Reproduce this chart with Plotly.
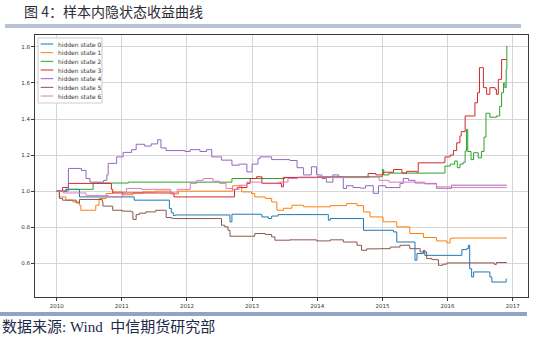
import plotly.graph_objects as go

# ---- data: cumulative return curves per hidden state (x in decimal years) ----
state_names = ["hidden state 0", "hidden state 1", "hidden state 2", "hidden state 3",
               "hidden state 4", "hidden state 5", "hidden state 6"]
state_colors = ["#1f77b4", "#ff7f0e", "#2ca02c", "#d62728", "#9467bd", "#8c564b", "#e377c2"]

s0_t = [2010.00, 2010.14, 2010.35, 2011.19, 2011.73, 2011.76, 2011.79, 2011.82, 2012.63, 2012.66,
        2012.69, 2013.12, 2013.15, 2013.25, 2013.30, 2013.40, 2014.14, 2014.17, 2014.20, 2014.68,
        2014.71, 2015.17, 2015.22, 2015.47, 2015.50, 2015.53, 2015.63, 2015.65, 2016.21, 2016.22,
        2016.29, 2016.32, 2016.34, 2016.37, 2016.40, 2016.63, 2016.65, 2016.68, 2016.88, 2016.90]
s0_v = [1.000, 1.010, 0.968, 0.950, 0.904, 0.880, 0.865, 0.868, 0.868, 0.830,
        0.872, 0.872, 0.857, 0.848, 0.862, 0.870, 0.870, 0.839, 0.848, 0.848,
        0.783, 0.774, 0.718, 0.718, 0.617, 0.654, 0.672, 0.644, 0.644, 0.676,
        0.681, 0.700, 0.570, 0.524, 0.552, 0.552, 0.524, 0.496, 0.496, 0.515]

s1_t = [2010.00, 2010.04, 2010.14, 2010.25, 2010.35, 2010.37, 2010.58, 2010.60, 2010.65, 2010.76,
        2010.86, 2011.01, 2011.17, 2011.32, 2011.52, 2011.75, 2011.87, 2012.69, 2012.70, 2012.84,
        2012.99, 2013.04, 2013.20, 2013.30, 2013.38, 2013.48, 2013.61, 2013.79, 2013.99, 2014.20,
        2014.45, 2014.61, 2014.71, 2014.81, 2015.01, 2015.22, 2015.42, 2015.63, 2015.83, 2015.99,
        2016.04, 2016.06, 2016.91]
s1_v = [1.000, 0.968, 0.950, 0.940, 0.922, 0.894, 0.894, 0.922, 0.959, 0.987,
        0.996, 0.980, 0.990, 0.996, 1.000, 0.985, 1.000, 1.000, 1.030, 0.996,
        0.987, 0.968, 0.960, 0.940, 0.894, 0.905, 0.922, 0.913, 0.913, 0.920,
        0.931, 0.920, 0.885, 0.857, 0.830, 0.802, 0.765, 0.743, 0.724, 0.713,
        0.737, 0.740, 0.740]

s2_t = [2010.00, 2010.15, 2010.56, 2011.10, 2012.69, 2013.50, 2014.00, 2014.96, 2015.00, 2015.02,
        2015.10, 2015.96, 2016.04, 2016.11, 2016.15, 2016.19, 2016.24, 2016.27, 2016.29, 2016.31,
        2016.36, 2016.40, 2016.47, 2016.52, 2016.56, 2016.59, 2016.65, 2016.75, 2016.80, 2016.83,
        2016.86, 2016.88, 2016.90, 2016.91]
s2_v = [1.000, 1.010, 1.045, 1.050, 1.070, 1.075, 1.080, 1.080, 1.120, 1.090,
        1.100, 1.139, 1.150, 1.167, 1.130, 1.150, 1.160, 1.222, 1.343, 1.220,
        1.175, 1.213, 1.185, 1.220, 1.300, 1.432, 1.410, 1.417, 1.470, 1.546,
        1.600, 1.574, 1.676, 1.806]

s3_t = [2010.00, 2010.09, 2010.18, 2010.82, 2010.84, 2010.86, 2011.78, 2011.80, 2012.70, 2012.73,
        2012.77, 2012.92, 2012.97, 2013.07, 2013.13, 2013.15, 2013.42, 2013.45, 2013.48, 2014.76,
        2014.78, 2014.90, 2015.01, 2015.17, 2015.30, 2015.37, 2015.53, 2015.55, 2015.94, 2015.96,
        2016.04, 2016.09, 2016.14, 2016.19, 2016.21, 2016.27, 2016.40, 2016.42, 2016.46, 2016.49,
        2016.52, 2016.55, 2016.60, 2016.65, 2016.73, 2016.75, 2016.78, 2016.80, 2016.83, 2016.91]
s3_v = [1.000, 1.020, 1.043, 1.043, 1.010, 0.990, 0.990, 0.968, 0.968, 1.010,
        1.020, 1.043, 1.070, 1.080, 1.080, 1.043, 1.043, 1.024, 1.076, 1.076,
        1.098, 1.090, 1.105, 1.120, 1.100, 1.110, 1.105, 1.157, 1.160, 1.190,
        1.200, 1.225, 1.268, 1.306, 1.330, 1.417, 1.417, 1.490, 1.546, 1.685,
        1.685, 1.574, 1.537, 1.574, 1.565, 1.537, 1.620, 1.620, 1.730, 1.730]

s4_t = [2010.00, 2010.17, 2010.18, 2010.38, 2010.45, 2010.51, 2010.72, 2010.77, 2010.79, 2010.92,
        2011.02, 2011.15, 2011.22, 2011.35, 2011.45, 2011.55, 2011.60, 2011.68, 2011.97, 2012.05,
        2012.20, 2012.30, 2012.38, 2012.53, 2012.69, 2012.80, 2012.92, 2013.00, 2013.09, 2013.12,
        2013.30, 2013.58, 2013.69, 2013.79, 2013.91, 2013.99, 2014.07, 2014.14, 2014.24, 2014.33,
        2014.40, 2014.45, 2014.55, 2014.66, 2014.74, 2014.86, 2014.94, 2015.05, 2015.27, 2015.32,
        2015.40, 2015.50, 2015.65, 2015.83, 2016.01, 2016.06, 2016.91]
s4_v = [1.000, 1.000, 1.126, 1.115, 1.070, 1.050, 1.060, 1.090, 1.154, 1.190,
        1.215, 1.230, 1.260, 1.250, 1.262, 1.285, 1.240, 1.225, 1.220, 1.230,
        1.220, 1.230, 1.190, 1.172, 1.144, 1.150, 1.107, 1.150, 1.180, 1.190,
        1.175, 1.170, 1.130, 1.090, 1.135, 1.090, 1.070, 1.050, 1.090, 1.080,
        1.015, 1.030, 1.020, 1.017, 1.030, 0.988, 1.030, 1.020, 1.043, 1.070,
        1.060, 1.045, 1.043, 1.016, 1.016, 1.033, 1.033]

s5_t = [2010.00, 2010.04, 2010.09, 2010.30, 2010.35, 2010.68, 2010.70, 2010.71, 2010.86, 2011.01,
        2011.14, 2011.17, 2011.22, 2011.27, 2011.37, 2011.52, 2011.65, 2011.68, 2011.76, 2011.79,
        2012.48, 2012.53, 2012.58, 2012.63, 2012.66, 2012.99, 2013.04, 2013.20, 2013.30, 2013.35,
        2013.58, 2013.99, 2014.20, 2014.40, 2014.61, 2014.68, 2014.76, 2014.96, 2015.12, 2015.27,
        2015.42, 2015.58, 2015.68, 2015.76, 2015.86, 2015.93, 2015.99, 2016.70, 2016.72, 2016.75,
        2016.91]
s5_v = [1.000, 0.960, 0.950, 0.935, 0.954, 0.954, 0.940, 0.917, 0.894, 0.889,
        0.885, 0.843, 0.870, 0.878, 0.885, 0.894, 0.894, 0.854, 0.850, 0.848,
        0.848, 0.811, 0.802, 0.783, 0.750, 0.750, 0.765, 0.760, 0.746, 0.728,
        0.730, 0.724, 0.730, 0.718, 0.700, 0.672, 0.680, 0.681, 0.690, 0.700,
        0.681, 0.663, 0.626, 0.620, 0.589, 0.595, 0.602, 0.602, 0.594, 0.604,
        0.604]

s6_t = [2010.00, 2010.10, 2010.45, 2010.80, 2011.02, 2011.07, 2011.30, 2011.75, 2011.85, 2012.05,
        2012.15, 2012.25, 2012.40, 2012.50, 2012.60, 2012.70, 2012.80, 2012.92, 2013.15, 2013.40,
        2013.55, 2013.70, 2014.20, 2014.80, 2014.95, 2015.10, 2015.50, 2015.65, 2015.83, 2016.04,
        2016.06, 2016.91]
s6_v = [1.000, 0.990, 0.975, 0.968, 0.994, 1.015, 1.010, 0.990, 1.010, 1.043,
        1.060, 1.070, 1.055, 1.043, 1.015, 1.010, 1.033, 1.050, 1.045, 1.050,
        1.070, 1.078, 1.075, 1.078, 1.060, 1.050, 1.050, 1.040, 1.024, 1.015,
        1.020, 1.020]

series_t = [s0_t, s1_t, s2_t, s3_t, s4_t, s5_t, s6_t]
series_v = [s0_v, s1_v, s2_v, s3_v, s4_v, s5_v, s6_v]

year_ticks = [2010, 2011, 2012, 2013, 2014, 2015, 2016, 2017]
value_ticks = [0.6, 0.8, 1.0, 1.2, 1.4, 1.6, 1.8]

title_text = "图 4：样本内隐状态收益曲线"
source_text = "数据来源: Wind  中信期货研究部"

# ---- page geometry (pixels) ----
W, H = 556, 337
AX_L, AX_R, AX_T, AX_B = 35, 528, 35, 297


def px(x):
    return (x - AX_L) / (AX_R - AX_L)


def py(y):
    return (AX_B - y) / (AX_B - AX_T)


fig = go.Figure()
for name, color, t, v in zip(state_names, state_colors, series_t, series_v):
    fig.add_trace(go.Scatter(x=t, y=v, mode="lines", name=name, line_shape="hv",
                             line=dict(color=color, width=1), showlegend=False))

axis_common = dict(showline=True, mirror=True, linecolor="#3a3a3a", linewidth=1,
                   ticks="outside", ticklen=3, tickwidth=1, tickcolor="#3a3a3a",
                   showgrid=True, gridcolor="#d6d6d6", gridwidth=1, zeroline=False,
                   tickfont=dict(family="DejaVu Sans", size=5.5, color="#333333"))

fig.update_layout(
    width=W, height=H, autosize=False,
    margin=dict(l=AX_L, r=W - AX_R, t=AX_T, b=H - AX_B),
    paper_bgcolor="white", plot_bgcolor="white",
    title=dict(text=title_text, xref="container", yref="container",
               x=24 / W, y=1 - 12 / H, xanchor="left", yanchor="middle",
               font=dict(family="Noto Sans CJK SC", size=14, color="#2b2b35")),
    xaxis=dict(range=[2009.667, 2017.235], tickvals=year_ticks,
               ticktext=[str(y) for y in year_ticks], **axis_common),
    yaxis=dict(range=[0.413, 1.866], tickvals=value_ticks, tickformat=".1f", **axis_common),
)

shapes = []
annotations = []

# header rule and footer rule
shapes.append(dict(type="rect", xref="paper", yref="paper", layer="above",
                   x0=px(5), x1=px(521), y0=py(28), y1=py(24),
                   fillcolor="#b7c3d5", line=dict(width=0)))
shapes.append(dict(type="rect", xref="paper", yref="paper", layer="above",
                   x0=px(0), x1=px(527), y0=py(316), y1=py(312),
                   fillcolor="#8ea5c6", line=dict(width=0)))

annotations.append(dict(text=source_text, xref="paper", yref="paper", x=px(0), y=py(327),
                        xanchor="left", yanchor="middle", align="left", showarrow=False,
                        font=dict(family="Liberation Serif, Noto Sans CJK SC", size=15,
                                  color="#1c2a48")))

# legend box in the upper-left corner of the axes
shapes.append(dict(type="rect", xref="paper", yref="paper", layer="above",
                   x0=px(38), x1=px(102), y0=py(103), y1=py(38),
                   fillcolor="rgba(255,255,255,0.85)", line=dict(color="#cccccc", width=1)))
for i, (name, color) in enumerate(zip(state_names, state_colors)):
    yy = 44 + i * 8.67
    shapes.append(dict(type="line", xref="paper", yref="paper", layer="above",
                       x0=px(40.7), x1=px(53.3), y0=py(yy), y1=py(yy),
                       line=dict(color=color, width=1)))
    annotations.append(dict(text=name, xref="paper", yref="paper", x=px(56), y=py(yy),
                            xanchor="left", yanchor="middle", align="left", showarrow=False,
                            font=dict(family="DejaVu Sans", size=6, color="#333333")))

fig.update_layout(shapes=shapes, annotations=annotations)
fig.write_html("out.html")
